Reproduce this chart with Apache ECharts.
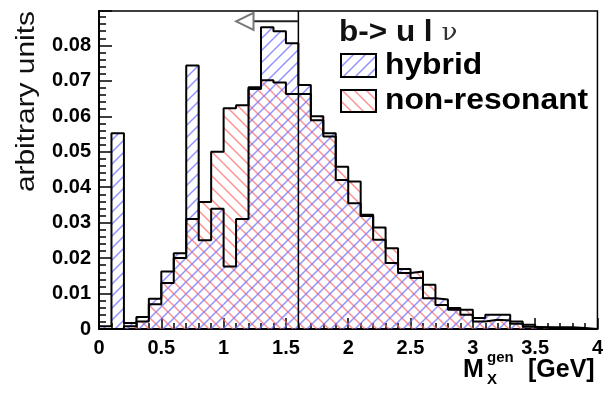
<!DOCTYPE html>
<html>
<head>
<meta charset="utf-8">
<script src="https://cdn.jsdelivr.net/npm/echarts@6/dist/echarts.min.js"></script>
<style>
  html, body { margin: 0; padding: 0; background: #fff; }
  #chart { width: 606px; height: 393px; }
</style>
</head>
<body>
<div id="chart"></div>
<script>
// Generated hadronic mass spectrum, 40 bins of 0.1 GeV (lower bin edges)
const binLow = [0.0, 0.1, 0.2, 0.3, 0.4, 0.5, 0.6, 0.7, 0.8, 0.9,
                1.0, 1.1, 1.2, 1.3, 1.4, 1.5, 1.6, 1.7, 1.8, 1.9,
                2.0, 2.1, 2.2, 2.3, 2.4, 2.5, 2.6, 2.7, 2.8, 2.9,
                3.0, 3.1, 3.2, 3.3, 3.4, 3.5, 3.6, 3.7, 3.8, 3.9];
const binWidth = 0.1;

const hybrid = [0.0008, 0.0552, 0.0017, 0.0034, 0.0085, 0.0162, 0.0214, 0.0743, 0.0250, 0.0339,
                0.0176, 0.0310, 0.0682, 0.0851, 0.0840, 0.0806, 0.0688, 0.0589, 0.0552, 0.0420,
                0.0355, 0.0322, 0.0252, 0.0186, 0.0169, 0.0144, 0.0087, 0.0083, 0.0059, 0.0040,
                0.0031, 0.0040, 0.0040, 0.0021, 0.0012, 0.0005, 0.0005, 0.0005, 0.0003, 0.0];

const nonResonant = [0.0, 0.0, 0.0008, 0.0021, 0.0070, 0.0130, 0.0200, 0.0310, 0.0358, 0.0500,
                     0.0623, 0.0631, 0.0677, 0.0702, 0.0695, 0.0663, 0.0663, 0.0600, 0.0543, 0.0458,
                     0.0416, 0.0319, 0.0286, 0.0228, 0.0158, 0.0162, 0.0125, 0.0068, 0.0054, 0.0054,
                     0.0021, 0.0026, 0.0024, 0.0015, 0.0006, 0.0004, 0.0002, 0.0002, 0.0, 0.0];

// Mass cut with arrow pointing to the accepted region
const cutValue = 1.6;
const arrowTip = 1.10;
const arrowBase = 1.24;
const arrowLevel = 0.0868;

const xMin = 0, xMax = 4, yMin = 0, yMax = 0.0897;

const sans = 'Liberation Sans, Arial, sans-serif';

// Diagonal hatch patterns (ROOT style 3004 "/" and 3005 "\")
function hatch(color, forward) {
  const s = 12;
  const c = document.createElement('canvas');
  c.width = s; c.height = s;
  const g = c.getContext('2d');
  g.strokeStyle = color;
  g.lineWidth = 1.5;
  g.beginPath();
  if (forward) {
    g.moveTo(-2, s + 2); g.lineTo(s + 2, -2);
    g.moveTo(-2 - s, s + 2); g.lineTo(2, -2);
    g.moveTo(s - 2, s + 2); g.lineTo(s + 2 + s, -2);
  } else {
    g.moveTo(-2, -2); g.lineTo(s + 2, s + 2);
    g.moveTo(-2 - s, -2); g.lineTo(2, s + 2);
    g.moveTo(s - 2, -2); g.lineTo(s + 2 + s, s + 2);
  }
  g.stroke();
  return { image: c, repeat: 'repeat' };
}
const bluePattern = hatch('rgba(110,110,255,0.75)', true);
const redPattern = hatch('rgba(255,110,110,0.75)', false);

function binData(values) {
  return values.map((v, i) => [binLow[i], binLow[i] + binWidth, v]);
}
function stepData(values) {
  const pts = [[binLow[0], 0]];
  values.forEach((v, i) => pts.push([binLow[i], v]));
  const last = binLow[binLow.length - 1] + binWidth;
  pts.push([last, values[values.length - 1]]);
  pts.push([last, 0]);
  return pts;
}

function fillSeries(name, values, pattern) {
  return {
    name: name,
    type: 'custom',
    data: binData(values),
    encode: { x: [0, 1], y: 2 },
    clip: true,
    silent: true,
    z: 2,
    renderItem: function (params, api) {
      const p0 = api.coord([api.value(0), api.value(2)]);
      const p1 = api.coord([api.value(1), 0]);
      return {
        type: 'rect',
        shape: { x: p0[0], y: p0[1], width: p1[0] - p0[0], height: p1[1] - p0[1] },
        style: { fill: pattern }
      };
    }
  };
}
function outlineSeries(values) {
  return {
    type: 'line',
    data: stepData(values),
    step: 'end',
    symbol: 'none',
    silent: true,
    z: 4,
    lineStyle: { color: '#000', width: 2 }
  };
}

const chart = echarts.init(document.getElementById('chart'), null, { renderer: 'canvas' });

const tickFont = { fontFamily: sans, fontWeight: 'bold', fontSize: 20, color: '#000' };

chart.setOption({
  animation: false,
  backgroundColor: '#fff',
  grid: { left: 99, right: 8, top: 11, bottom: 64, show: true, borderColor: '#000', borderWidth: 1.5, backgroundColor: 'transparent' },
  xAxis: {
    type: 'value', min: xMin, max: xMax, interval: 0.5,
    axisLine: { show: true, onZero: false, lineStyle: { color: '#000', width: 2 } },
    axisTick: { show: true, inside: true, length: 11, lineStyle: { color: '#000', width: 1.5 } },
    minorTick: { show: true, splitNumber: 5, length: 6, lineStyle: { color: '#000', width: 1.5 } },
    splitLine: { show: false },
    axisLabel: Object.assign({ margin: 9, formatter: v => String(v) }, tickFont)
  },
  yAxis: {
    type: 'value', min: yMin, max: yMax, interval: 0.01,
    axisLine: { show: true, lineStyle: { color: '#000', width: 2 } },
    axisTick: { show: true, inside: true, length: 13, lineStyle: { color: '#000', width: 1.5 } },
    minorTick: { show: true, splitNumber: 5, length: 7, lineStyle: { color: '#000', width: 1.5 } },
    splitLine: { show: false },
    axisLabel: Object.assign({ margin: 8, showMaxLabel: false, formatter: v => (v === 0 ? '0' : v.toFixed(2)) }, tickFont)
  },
  series: [
    fillSeries('non-resonant', nonResonant, redPattern),
    fillSeries('hybrid', hybrid, bluePattern),
    outlineSeries(nonResonant),
    outlineSeries(hybrid),
    {
      type: 'custom',
      data: [[cutValue, arrowTip, arrowBase, arrowLevel]],
      silent: true,
      z: 5,
      renderItem: function (params, api) {
        const bottom = api.coord([api.value(0), yMin]);
        const top = api.coord([api.value(0), yMax]);
        const tip = api.coord([api.value(1), api.value(3)]);
        const base = api.coord([api.value(2), api.value(3)]);
        const h = 8.5;
        return {
          type: 'group',
          children: [
            { type: 'line', shape: { x1: bottom[0], y1: bottom[1], x2: top[0], y2: top[1] },
              style: { stroke: '#000', lineWidth: 1.5 } },
            { type: 'line', shape: { x1: base[0], y1: base[1], x2: bottom[0], y2: base[1] },
              style: { stroke: '#222', lineWidth: 2 } },
            { type: 'polygon', shape: { points: [[tip[0], tip[1]], [base[0], base[1] - h], [base[0], base[1] + h]] },
              style: { fill: '#fff', stroke: '#777', lineWidth: 2 } }
          ]
        };
      }
    }
  ],
  graphic: [
    // y-axis title, reading upwards
    { type: 'text', x: 14, y: 11, rotation: Math.PI / 2, scaleX: 1.15,
      style: { text: 'arbitrary units', fontFamily: sans, fontSize: 26, fill: '#111', align: 'right', verticalAlign: 'top' } },
    // x-axis title
    { type: 'text', x: 463, y: 383, style: { text: 'M', fontFamily: sans, fontWeight: 'bold', fontSize: 25, fill: '#000', verticalAlign: 'bottom' } },
    { type: 'text', x: 487, y: 365, style: { text: 'gen', fontFamily: sans, fontWeight: 'bold', fontSize: 15, fill: '#000', verticalAlign: 'bottom' } },
    { type: 'text', x: 487, y: 387, style: { text: 'X', fontFamily: sans, fontWeight: 'bold', fontSize: 15, fill: '#000', verticalAlign: 'bottom' } },
    { type: 'text', x: 528, y: 383, style: { text: '[GeV]', fontFamily: sans, fontWeight: 'bold', fontSize: 25, fill: '#000', verticalAlign: 'bottom' } },
    // legend
    { type: 'text', x: 339, y: 33, scaleX: 1.05, style: {
        text: '{b|b-> u l }{n|ν}', verticalAlign: 'middle',
        rich: {
          b: { fontFamily: sans, fontWeight: 'bold', fontSize: 30, fill: '#111' },
          n: { fontFamily: 'DejaVu Serif, serif', fontSize: 25, fill: '#333' }
        } } },
    { type: 'rect', shape: { x: 341, y: 54, width: 35, height: 23 }, style: { fill: bluePattern, stroke: '#000', lineWidth: 2 } },
    { type: 'text', x: 385, y: 66, scaleX: 1.06, style: { text: 'hybrid', fontFamily: sans, fontWeight: 'bold', fontSize: 30, fill: '#000', verticalAlign: 'middle' } },
    { type: 'rect', shape: { x: 341, y: 90, width: 35, height: 22 }, style: { fill: redPattern, stroke: '#000', lineWidth: 2 } },
    { type: 'text', x: 385, y: 101, scaleX: 1.06, style: { text: 'non-resonant', fontFamily: sans, fontWeight: 'bold', fontSize: 30, fill: '#000', verticalAlign: 'middle' } }
  ]
});
</script>
</body>
</html>
